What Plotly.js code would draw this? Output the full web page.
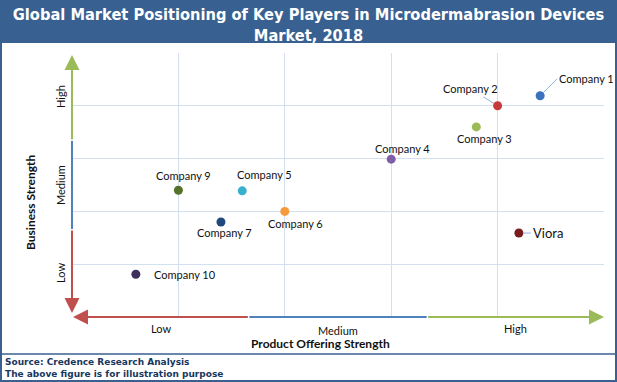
<!DOCTYPE html>
<html><head><meta charset="utf-8">
<script src="https://cdn.plot.ly/plotly-3.0.1.min.js"></script>
<style>html,body{margin:0;padding:0;background:#fff}#chart{width:617px;height:382px}</style>
</head><body><div id="chart"></div>
<script>
// ---- data ----
const companies = ['Company 1','Company 2','Company 3','Company 4','Company 5','Company 6','Company 7','Company 9','Company 10','Viora'];
const productStrength = [4.40, 4.00, 3.80, 3.00, 1.60, 2.00, 1.40, 1.00, 0.60, 4.20];
const businessStrength = [4.19, 4.00, 3.60, 2.99, 2.39, 2.00, 1.80, 2.40, 0.81, 1.59];
const levelLabels = ['Low','Medium','High'];

// ---- styles ----
const markerColors = ['#3a72c0','#c83a3a','#9bbb59','#7f5fa8','#3ab0cf','#f79a3e','#1f497d','#55722a','#3e2f5b','#7a1c1c'];
// label placement: [mode, dx, dy, anchor, fontsize]
const labelPos = [
  ['arrow', 17, -17, 'left', 11],
  ['arrow', -27, -17, 'center', 11],
  ['shift', 8, -12, 'center', 11],
  ['shift', 11, 11, 'center', 11],
  ['shift', 22, 16, 'center', 11],
  ['shift', 11, -12, 'center', 11],
  ['shift', 4, -11, 'center', 11],
  ['shift', 5, 15, 'center', 11],
  ['shift', 16, 0, 'left', 11],
  ['arrow', 12, 0, 'left', 13]
];
const RED = '#c0504d', BLUE = '#4f81bd', GREEN = '#9bbb59', BAND = '#386090';
const L = 72, R = 13, T = 53, B = 65, W = 617, H = 382;
const pw = W - L - R, ph = H - T - B;
const px = x => (x - L) / pw;
const py = y => (H - B - y) / ph;

const trace = {
  x: productStrength, y: businessStrength, mode: 'markers', type: 'scatter',
  marker: {size: 9, color: markerColors}, hoverinfo: 'skip', showlegend: false
};

const annotations = [];
companies.forEach((c, i) => {
  const p = labelPos[i];
  const a = {x: productStrength[i], y: businessStrength[i], xref: 'x', yref: 'y', text: c,
    font: {family: 'Lato, Noto Sans, sans-serif', size: p[4], color: '#111'}};
  if (p[0] === 'arrow') {
    Object.assign(a, {showarrow: true, ax: p[1], ay: p[2], arrowhead: 0, arrowwidth: 1,
      arrowcolor: '#8db3e2', standoff: 4, xanchor: p[3]});
  } else {
    Object.assign(a, {showarrow: false, xshift: p[1], yshift: p[2], xanchor: p[3], yanchor: 'middle'});
  }
  annotations.push(a);
});
// axis level labels
const axFont = {family: 'Lato, Noto Sans, sans-serif', size: 11, color: '#111'};
const xLabelShift = [-11, -13, -11];
levelLabels.forEach((t, i) => {
  annotations.push({xref: 'paper', yref: 'paper', x: (2 * i + 1) / 6, y: 0, yshift: xLabelShift[i], text: t,
    xanchor: 'center', yanchor: 'middle', showarrow: false, font: axFont});
  annotations.push({xref: 'paper', yref: 'paper', x: 0, xshift: -12, y: (2 * i + 1) / 6, text: t,
    xanchor: 'center', yanchor: 'middle', textangle: -90, showarrow: false, font: axFont});
});
annotations.push({xref: 'paper', yref: 'paper', x: px(320), y: 0, yshift: -26, text: '<b>Product Offering Strength</b>',
  xanchor: 'center', yanchor: 'middle', showarrow: false, font: {family: 'Lato, sans-serif', size: 12, color: '#111'}});
annotations.push({xref: 'paper', yref: 'paper', x: 0, xshift: -42, y: py(202), text: '<b>Business Strength</b>',
  xanchor: 'center', yanchor: 'middle', textangle: -90, showarrow: false, font: {family: 'Lato, sans-serif', size: 12, color: '#111'}});
const srcFont = {family: 'DejaVu Sans, sans-serif', size: 9, color: '#17375e'};
annotations.push({xref: 'paper', yref: 'paper', x: px(3), xanchor: 'left', yanchor: 'middle', y: 0, yshift: -45, text: '<b>Source: Credence Research Analysis</b>', showarrow: false, font: srcFont});
annotations.push({xref: 'paper', yref: 'paper', x: px(3), xanchor: 'left', yanchor: 'middle', y: 0, yshift: -57, text: '<b>The above figure is for illustration purpose</b>', showarrow: false, font: srcFont});
// colored axis arrows
const arr = (x0, y0, x1, y1, col) => ({xref: 'paper', yref: 'paper', axref: 'paper', ayref: 'paper',
  x: x1, y: y1, ax: x0, ay: y0, text: '', showarrow: true, arrowhead: 2, arrowsize: 1.5, arrowwidth: 2, arrowcolor: col});
annotations.push(arr(0, 1/3, 0, py(313), RED));
annotations.push(arr(0, 2/3, 0, py(55), GREEN));
annotations.push(arr(1/3, 0, px(73), 0, RED));
annotations.push(arr(2/3, 0, px(604), 0, GREEN));

const shapes = [
  {type: 'rect', xref: 'paper', yref: 'paper', x0: px(0), x1: px(W), y0: py(43), y1: py(0), fillcolor: BAND, line: {width: 0}, layer: 'below'},
  {type: 'line', xref: 'paper', yref: 'paper', x0: 0, x1: 0, y0: 1/3, y1: 2/3, line: {color: BLUE, width: 2}},
  {type: 'line', xref: 'paper', yref: 'paper', x0: 1/3, x1: 2/3, y0: 0, y1: 0, line: {color: BLUE, width: 2}},
  {type: 'line', xref: 'paper', yref: 'paper', x0: px(0), x1: px(W), y0: py(354), y1: py(354), line: {color: BAND, width: 1.5}},
  {type: 'rect', xref: 'paper', yref: 'paper', x0: px(1), x1: px(W - 1), y0: py(H - 1), y1: py(1), line: {color: BAND, width: 2}}
];

const layout = {
  width: W, height: H, margin: {l: L, r: R, t: T, b: B},
  paper_bgcolor: '#fff', plot_bgcolor: '#fff',
  title: {text: 'Global Market Positioning of Key Players in Microdermabrasion Devices<br>Market, 2018',
    font: {family: 'DejaVu Sans Condensed, Liberation Sans, sans-serif', size: 16.3, color: '#fff', weight: 'bold'},
    x: 0.5, xref: 'container', y: 1 - 20 / H, yref: 'container', yanchor: 'middle'},
  xaxis: {range: [0, 5], dtick: 1, tick0: 0, showticklabels: false, zeroline: false, showline: false,
    gridcolor: '#d3e0f0', gridwidth: 1, fixedrange: true},
  yaxis: {range: [0, 5], dtick: 1, tick0: 0, showticklabels: false, zeroline: false, showline: false,
    gridcolor: '#d3e0f0', gridwidth: 1, fixedrange: true},
  annotations: annotations, shapes: shapes
};
Plotly.newPlot('chart', [trace], layout, {displayModeBar: false, staticPlot: true});
</script></body></html>
